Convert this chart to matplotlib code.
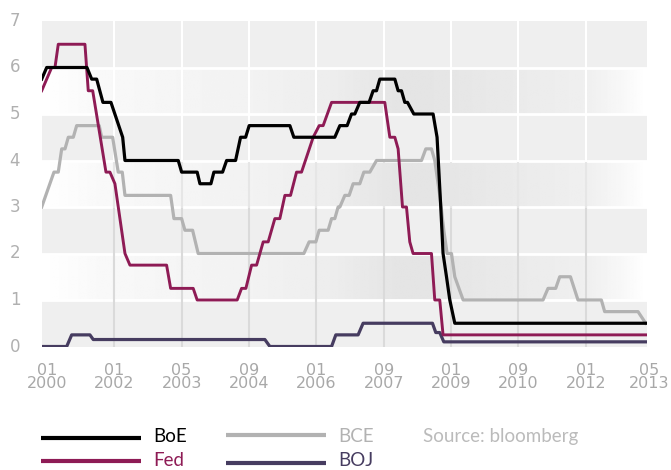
import matplotlib
matplotlib.use("Agg")
import matplotlib.pyplot as plt
import numpy as np
from matplotlib.lines import Line2D
from matplotlib.transforms import blended_transform_factory

# x is measured in tick steps (0 = "01 2000", 9 = "05 2013")
months = ["01", "01", "05", "09", "01", "09", "01", "09", "01", "05"]
years = ["2000", "2002", "2003", "2004", "2006", "2007", "2009", "2010", "2012", "2013"]

boe_x = [-0.077, -0.003, 0.595, 0.665, 0.739, 0.832, 0.951, 1.125, 1.159, 1.950, 2.000,
         2.231, 2.272, 2.435, 2.479, 2.608, 2.668, 2.801, 2.875, 2.950, 3.003, 3.607,
         3.666, 4.274, 4.349, 4.457, 4.522, 4.571, 4.645, 4.783, 4.843, 4.893, 4.942,
         5.165, 5.214, 5.264, 5.313, 5.353, 5.447, 5.733, 5.792, 5.847, 5.881, 5.932,
         5.981, 6.055, 8.903]
boe_y = [5.75, 6.0, 6.0, 5.75, 5.75, 5.25, 5.25, 4.5, 4.0, 4.0, 3.75,
         3.75, 3.5, 3.5, 3.75, 3.75, 4.0, 4.0, 4.5, 4.5, 4.75, 4.75,
         4.5, 4.5, 4.75, 4.75, 5.0, 5.0, 5.25, 5.25, 5.5, 5.5, 5.75,
         5.75, 5.5, 5.5, 5.25, 5.25, 5.0, 5.0, 4.5, 3.0, 2.0, 1.5,
         1.0, 0.5, 0.5]

fed_x = [-0.077, 0.071, 0.120, 0.169, 0.565, 0.614, 0.680, 0.877, 0.936, 1.010, 1.159,
         1.233, 1.777, 1.837, 2.172, 2.231, 2.825, 2.890, 2.954, 3.039, 3.113, 3.211,
         3.285, 3.384, 3.458, 3.533, 3.617, 3.706, 3.780, 3.953, 4.042, 4.101, 4.226,
         5.016, 5.091, 5.165, 5.214, 5.279, 5.338, 5.387, 5.436, 5.709, 5.758, 5.832,
         5.881, 8.903]
fed_y = [5.5, 6.0, 6.0, 6.5, 6.5, 5.5, 5.5, 3.75, 3.75, 3.5, 2.0,
         1.75, 1.75, 1.25, 1.25, 1.0, 1.0, 1.25, 1.25, 1.75, 1.75, 2.25,
         2.25, 2.75, 2.75, 3.25, 3.25, 3.75, 3.75, 4.5, 4.75, 4.75, 5.25,
         5.25, 4.5, 4.5, 4.25, 3.0, 3.0, 2.25, 2.0, 2.0, 1.0, 1.0,
         0.25, 0.25]

bce_x = [-0.077, 0.105, 0.169, 0.220, 0.269, 0.318, 0.392, 0.442, 0.777, 0.813, 0.976,
         1.059, 1.119, 1.159, 1.837, 1.886, 2.000, 2.049, 2.163, 2.246, 3.815, 3.893,
         3.993, 4.042, 4.175, 4.226, 4.274, 4.323, 4.349, 4.423, 4.487, 4.546, 4.645,
         4.705, 4.794, 4.893, 5.561, 5.625, 5.709, 5.758, 5.832, 5.892, 5.941, 6.006,
         6.055, 6.179, 7.365, 7.439, 7.553, 7.613, 7.772, 7.884, 8.231, 8.280, 8.775,
         8.889]
bce_y = [3.0, 3.75, 3.75, 4.25, 4.25, 4.5, 4.5, 4.75, 4.75, 4.5, 4.5,
         3.75, 3.75, 3.25, 3.25, 2.75, 2.75, 2.5, 2.5, 2.0, 2.0, 2.25,
         2.25, 2.5, 2.5, 2.75, 2.75, 3.0, 3.0, 3.25, 3.25, 3.5, 3.5,
         3.75, 3.75, 4.0, 4.0, 4.25, 4.25, 4.0, 3.25, 2.5, 2.0, 2.0,
         1.5, 1.0, 1.0, 1.25, 1.25, 1.5, 1.5, 1.0, 1.0, 0.75, 0.75,
         0.5]

boj_x = [-0.077, 0.294, 0.368, 0.639, 0.688, 3.236, 3.310, 4.226, 4.289, 4.620, 4.694,
         5.724, 5.773, 5.832, 5.892, 8.903]
boj_y = [0.0, 0.0, 0.25, 0.25, 0.15, 0.15, 0.0, 0.0, 0.25, 0.25, 0.5,
         0.5, 0.3, 0.3, 0.1, 0.1]

names = ["BoE", "Fed", "BCE", "BOJ"]
colors = ["#000000", "#8e1b55", "#b2b2b2", "#463c60"]

W, H = 671, 470
fig = plt.figure(figsize=(W / 100, H / 100), dpi=100)
ax = fig.add_axes([41.7 / W, 1 - 346.5 / H, 605 / W, 325.5 / H])
x0, x1 = -0.077, 8.904

# background: flat bands and horizontally shaded bands
shade_pos = [0.0, 0.096, 0.229, 0.344, 0.476, 0.592, 0.675, 0.791, 0.907, 0.957, 1.0]
shade_val = [1.0, 0.975, 0.96, 0.95, 0.93, 0.895, 0.9, 0.92, 0.94, 0.97, 1.0]
grad = np.interp(np.linspace(0, 1, 400), shade_pos, shade_val)[None, :]
for k in range(7):
    if k % 2 == 0:
        ax.axhspan(k, k + 1, color="#efefef", lw=0, zorder=0)
    else:
        ax.imshow(grad, cmap="gray", vmin=0, vmax=1, aspect="auto",
                  extent=(x0, x1, k, k + 1), interpolation="bilinear", zorder=0)
for k in range(1, 7):
    ax.axhline(k, color="white", lw=2, zorder=1)

for i in range(1, 9):
    ax.plot([i, i], [0, 3], color="#dadada", lw=1.5, zorder=1)
    ax.plot([i, i], [3, 4], color="#e6e6e6", lw=1.5, zorder=1)
    ax.plot([i, i], [4, 7], color="white", lw=1.5, zorder=1)

ax.plot(bce_x, bce_y, color=colors[2], lw=2.3, zorder=3)
ax.plot(boj_x, boj_y, color=colors[3], lw=2.3, zorder=4)
ax.plot(fed_x, fed_y, color=colors[1], lw=2.1, zorder=5)
ax.plot(boe_x, boe_y, color=colors[0], lw=2.3, zorder=6)

ax.set_xlim(x0, x1)
ax.set_ylim(0, 7)
ax.set_xticks([])
ax.set_yticks([])
for s in ax.spines.values():
    s.set_visible(False)

tick_font = "DejaVu Sans"
ytr = blended_transform_factory(fig.transFigure, ax.transData)
for v in range(8):
    fig.text(15 / W, v, str(v), transform=ytr, ha="center", va="center",
             fontsize=12, color="#b0b0b0", family=tick_font)

xtr = blended_transform_factory(ax.transData, fig.transFigure)
for i in range(10):
    xi = min(i, 8.935)  # keep the last label inside the picture
    fig.text(xi, 1 - 377 / H, months[i] + "\n" + years[i], transform=xtr,
             ha="center", va="center", fontsize=11.5, color="#a8a8a8",
             family=tick_font, linespacing=0.85)

# legend drawn by hand
col_x = [40.7, 226]
line_y = [437.7, 461, 435, 462.7]
text_y = [436.7, 461]
for j, name in enumerate(names):
    cx = col_x[j // 2]
    ly = line_y[j]
    fig.add_artist(Line2D([cx / W, (cx + 100) / W], [1 - ly / H, 1 - ly / H],
                          color=colors[j], lw=3, solid_capstyle="butt",
                          transform=fig.transFigure))
    fig.text((cx + 112.5) / W, 1 - text_y[j % 2] / H, name, ha="left", va="center",
             fontsize=13.5, color=colors[j], family="Lato")
fig.text(423 / W, 1 - 436.7 / H, "Source: bloomberg", ha="left", va="center",
         fontsize=13.5, color="#bbbbbb", family="Lato")

fig.savefig("out.png", dpi=100)
